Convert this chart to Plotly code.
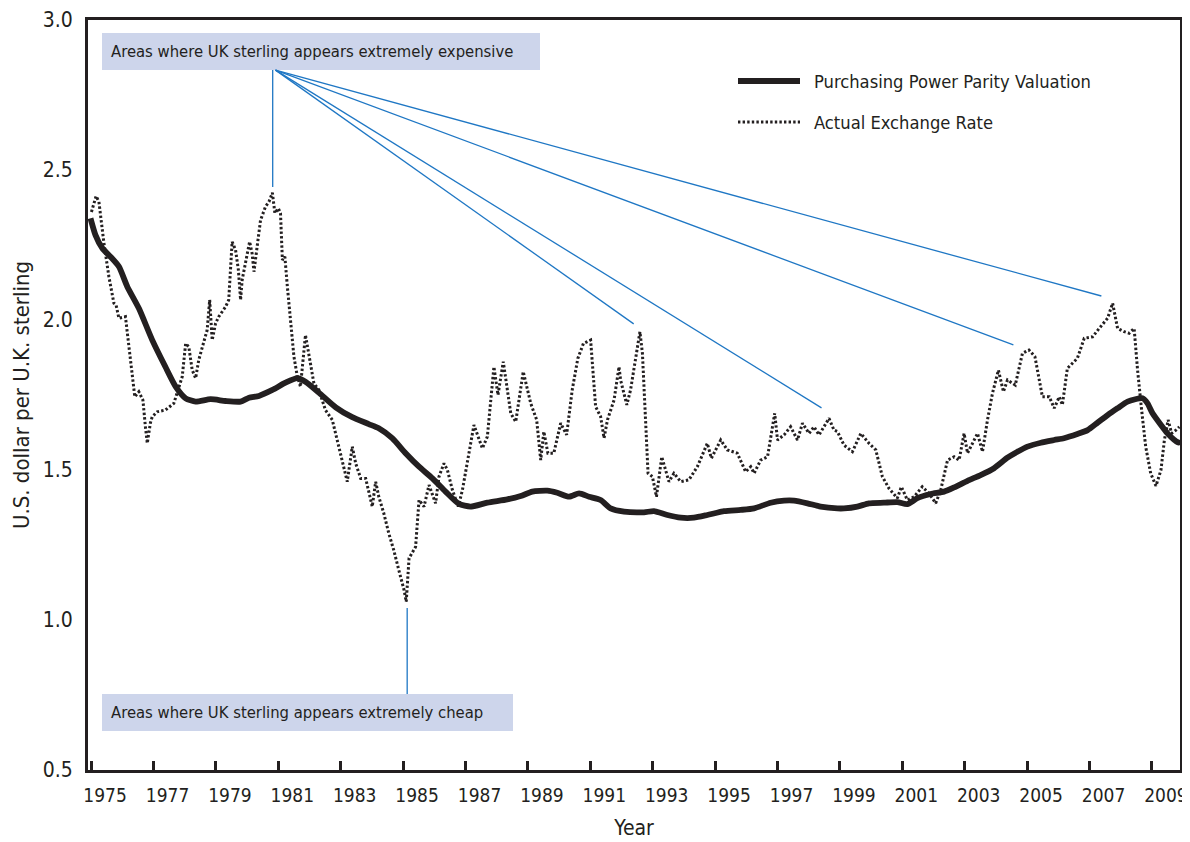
import plotly.graph_objects as go

# ---------------- data ----------------
actual_year = [1975.01, 1975.16, 1975.25, 1975.41, 1975.57, 1975.73, 1975.80, 1975.89, 1976.10, 1976.20,
               1976.32, 1976.40, 1976.53, 1976.66, 1976.74, 1976.80, 1976.90, 1976.96, 1977.12, 1977.38,
               1977.65, 1977.76, 1977.92, 1978.03, 1978.13, 1978.24, 1978.35, 1978.45, 1978.56, 1978.72,
               1978.80, 1978.84, 1978.88, 1978.99, 1979.09, 1979.31, 1979.41, 1979.52, 1979.63, 1979.72,
               1979.79, 1979.84, 1979.95, 1980.08, 1980.16, 1980.22, 1980.32, 1980.43, 1980.59, 1980.70,
               1980.81, 1980.89, 1981.00, 1981.07, 1981.13, 1981.21, 1981.29, 1981.39, 1981.50, 1981.61,
               1981.71, 1981.87, 1981.98, 1982.14, 1982.30, 1982.51, 1982.73, 1982.94, 1983.10, 1983.21,
               1983.37, 1983.48, 1983.64, 1983.80, 1984.01, 1984.12, 1984.22, 1984.38, 1984.54, 1984.70,
               1984.86, 1985.03, 1985.10, 1985.19, 1985.40, 1985.51, 1985.67, 1985.83, 1986.04, 1986.15,
               1986.31, 1986.42, 1986.58, 1986.77, 1986.90, 1987.06, 1987.27, 1987.54, 1987.70, 1987.91,
               1988.04, 1988.21, 1988.45, 1988.61, 1988.85, 1989.09, 1989.28, 1989.41, 1989.51, 1989.64,
               1989.83, 1990.05, 1990.24, 1990.42, 1990.60, 1990.78, 1991.01, 1991.17, 1991.33, 1991.44,
               1991.55, 1991.76, 1991.92, 1991.97, 1992.17, 1992.29, 1992.45, 1992.59, 1992.67, 1992.77,
               1992.85, 1992.99, 1993.12, 1993.29, 1993.52, 1993.68, 1993.90, 1994.16, 1994.43, 1994.75,
               1994.88, 1995.18, 1995.39, 1995.71, 1995.98, 1996.14, 1996.25, 1996.46, 1996.68, 1996.91,
               1997.00, 1997.21, 1997.42, 1997.64, 1997.80, 1998.01, 1998.17, 1998.33, 1998.49, 1998.65,
               1998.81, 1998.92, 1999.13, 1999.40, 1999.67, 1999.93, 2000.15, 2000.36, 2000.57, 2000.84,
               2000.97, 2001.16, 2001.38, 2001.64, 2001.86, 2002.07, 2002.23, 2002.45, 2002.66, 2002.82,
               2002.98, 2003.09, 2003.41, 2003.57, 2003.73, 2003.89, 2004.08, 2004.24, 2004.37, 2004.62,
               2004.85, 2005.06, 2005.25, 2005.38, 2005.49, 2005.71, 2005.87, 2006.03, 2006.13, 2006.29,
               2006.61, 2006.83, 2007.10, 2007.31, 2007.58, 2007.74, 2007.90, 2008.11, 2008.27, 2008.43,
               2008.54, 2008.67, 2008.80, 2008.96, 2009.13, 2009.29, 2009.40, 2009.52, 2009.63, 2009.77,
               2009.88]
actual_rate = [2.36, 2.413, 2.394, 2.257, 2.144, 2.056, 2.05, 2.006, 2.011, 1.923,
               1.811, 1.744, 1.761, 1.733, 1.644, 1.589, 1.657, 1.678, 1.694, 1.70,
               1.722, 1.757, 1.811, 1.922, 1.911, 1.833, 1.806, 1.867, 1.911, 1.967,
               2.067, 2.0, 1.933, 1.989, 2.011, 2.044, 2.067, 2.261, 2.233, 2.167,
               2.067, 2.133, 2.189, 2.261, 2.222, 2.161, 2.244, 2.333, 2.378, 2.394,
               2.424, 2.356, 2.372, 2.356, 2.20, 2.211, 2.111, 1.99, 1.878, 1.811,
               1.778, 1.95, 1.878, 1.789, 1.767, 1.70, 1.667, 1.578, 1.50, 1.461,
               1.578, 1.522, 1.472, 1.472, 1.378, 1.461, 1.411, 1.356, 1.289, 1.233,
               1.167, 1.10, 1.061, 1.206, 1.244, 1.40, 1.378, 1.45, 1.389, 1.478,
               1.522, 1.50, 1.433, 1.378, 1.433, 1.522, 1.65, 1.572, 1.611, 1.844,
               1.75, 1.861, 1.689, 1.661, 1.828, 1.722, 1.667, 1.533, 1.628, 1.556,
               1.556, 1.656, 1.617, 1.767, 1.872, 1.922, 1.933, 1.711, 1.678, 1.606,
               1.667, 1.733, 1.844, 1.80, 1.717, 1.767, 1.878, 1.961, 1.889, 1.689,
               1.489, 1.478, 1.411, 1.544, 1.461, 1.489, 1.461, 1.467, 1.511, 1.589,
               1.539, 1.60, 1.567, 1.556, 1.494, 1.511, 1.489, 1.533, 1.544, 1.689,
               1.60, 1.617, 1.644, 1.60, 1.656, 1.622, 1.644, 1.617, 1.644, 1.672,
               1.633, 1.628, 1.583, 1.561, 1.622, 1.589, 1.567, 1.478, 1.439, 1.406,
               1.444, 1.40, 1.411, 1.444, 1.422, 1.389, 1.433, 1.533, 1.544, 1.533,
               1.622, 1.556, 1.622, 1.561, 1.667, 1.756, 1.833, 1.761, 1.80, 1.783,
               1.889, 1.90, 1.878, 1.80, 1.744, 1.744, 1.706, 1.744, 1.717, 1.839,
               1.872, 1.939, 1.944, 1.972, 2.006, 2.056, 1.972, 1.961, 1.956, 1.972,
               1.833, 1.70, 1.578, 1.489, 1.447, 1.50, 1.60, 1.667, 1.622, 1.633,
               1.644]

ppp_year = [1974.98, 1975.14, 1975.36, 1975.62, 1975.89, 1976.16, 1976.53, 1976.96, 1977.38, 1977.71,
            1978.03, 1978.35, 1978.83, 1979.31, 1979.79, 1980.06, 1980.38, 1980.81, 1981.23, 1981.61,
            1981.87, 1982.30, 1982.84, 1983.37, 1983.90, 1984.22, 1984.65, 1985.08, 1985.51, 1985.94,
            1986.36, 1986.79, 1987.16, 1987.70, 1988.34, 1988.77, 1989.14, 1989.62, 1989.94, 1990.32,
            1990.64, 1990.96, 1991.33, 1991.65, 1992.08, 1992.72, 1993.04, 1993.47, 1993.90, 1994.32,
            1994.75, 1995.29, 1995.82, 1996.25, 1996.78, 1997.21, 1997.53, 1997.96, 1998.38, 1998.92,
            1999.13, 1999.56, 1999.93, 2000.41, 2000.84, 2001.16, 2001.48, 2001.91, 2002.34, 2002.66,
            2003.09, 2003.51, 2003.94, 2004.37, 2004.69, 2005.01, 2005.44, 2005.87, 2006.18, 2006.61,
            2006.94, 2007.26, 2007.58, 2007.90, 2008.22, 2008.70, 2008.86, 2009.02, 2009.29, 2009.50,
            2009.72, 2009.85, 2009.90]
ppp_value = [2.339, 2.283, 2.239, 2.211, 2.178, 2.111, 2.039, 1.933, 1.844, 1.778,
             1.739, 1.728, 1.736, 1.730, 1.728, 1.741, 1.747, 1.767, 1.791, 1.806,
             1.794, 1.758, 1.709, 1.676, 1.653, 1.639, 1.606, 1.556, 1.511, 1.472,
             1.428, 1.387, 1.378, 1.391, 1.402, 1.413, 1.428, 1.431, 1.424, 1.411,
             1.422, 1.411, 1.400, 1.372, 1.361, 1.359, 1.363, 1.350, 1.341, 1.341,
             1.350, 1.363, 1.367, 1.372, 1.391, 1.398, 1.398, 1.389, 1.378, 1.372,
             1.372, 1.378, 1.389, 1.391, 1.393, 1.386, 1.406, 1.420, 1.428, 1.442,
             1.464, 1.483, 1.506, 1.541, 1.561, 1.578, 1.591, 1.600, 1.606, 1.620,
             1.633, 1.658, 1.683, 1.706, 1.728, 1.739, 1.722, 1.689, 1.650, 1.622,
             1.600, 1.591, 1.600]

tick_years = list(range(1975, 2010, 2))
tick_labels = [str(y) for y in tick_years]
y_ticks = [0.5, 1.0, 1.5, 2.0, 2.5, 3.0]

# callout targets (year, value)
expensive_origin = (1980.91, 2.833)
expensive_targets_x = [1992.39, 1998.41, 2004.56, 2007.38]
expensive_targets_y = [1.987, 1.707, 1.917, 2.08]
expensive_vertical = (1980.82, 2.833, 2.443)
cheap_vertical = (1985.13, 1.04, 0.753)

# ---------------- styling ----------------
FONT = "DejaVu Sans Condensed, Liberation Sans Narrow, Arial Narrow, sans-serif"
INK = "#231f20"
BLUE = "#1f77c4"
BOX = "#cdd5eb"

OFF = 8                       # default page margin of the html body
W, H = 1190 - OFF, 842 - OFF
L, R, T, B = 88 - OFF, 10, 20 - OFF, 72
PW, PH = W - L - R, H - T - B


def px(x):                    # page pixel -> paper fraction
    return (x - OFF - L) / PW


def py(y):
    return (H - B - (y - OFF)) / PH


fig = go.Figure()
fig.add_trace(go.Scatter(x=actual_year, y=actual_rate, mode="lines", name="Actual Exchange Rate",
                         line=dict(color=INK, width=3, dash="2.4px,2.2px"), showlegend=False))
fig.add_trace(go.Scatter(x=ppp_year, y=ppp_value, mode="lines", name="Purchasing Power Parity Valuation",
                         line=dict(color=INK, width=5.8, shape="spline", smoothing=0.6), showlegend=False))

shapes = []
shapes.append(dict(type="line", xref="x", yref="y", x0=expensive_vertical[0], x1=expensive_vertical[0],
                   y0=expensive_vertical[1], y1=expensive_vertical[2], line=dict(color=BLUE, width=1.3)))
for tx, ty in zip(expensive_targets_x, expensive_targets_y):
    shapes.append(dict(type="line", xref="x", yref="y", x0=expensive_origin[0], y0=expensive_origin[1],
                       x1=tx, y1=ty, line=dict(color=BLUE, width=1.3)))
shapes.append(dict(type="line", xref="x", yref="y", x0=cheap_vertical[0], x1=cheap_vertical[0],
                   y0=cheap_vertical[1], y1=cheap_vertical[2], line=dict(color=BLUE, width=1.3)))
shapes.append(dict(type="rect", xref="paper", yref="paper", x0=px(102), x1=px(540), y0=py(70), y1=py(33),
                   fillcolor=BOX, line=dict(width=0), layer="below"))
shapes.append(dict(type="rect", xref="paper", yref="paper", x0=px(102), x1=px(513), y0=py(731), y1=py(694),
                   fillcolor=BOX, line=dict(width=0), layer="below"))
shapes.append(dict(type="line", xref="paper", yref="paper", x0=px(738), x1=px(800), y0=py(81), y1=py(81),
                   line=dict(color=INK, width=5.8)))
shapes.append(dict(type="line", xref="paper", yref="paper", x0=px(738), x1=px(800), y0=py(122), y1=py(122),
                   line=dict(color=INK, width=3, dash="2.4px,2.2px")))

annotations = [
    dict(text="Areas where UK sterling appears extremely expensive", xref="paper", yref="paper",
         x=px(109), y=py(51.5), xanchor="left", yanchor="middle", showarrow=False,
         font=dict(family=FONT, size=16.5, color=INK)),
    dict(text="Areas where UK sterling appears extremely cheap", xref="paper", yref="paper",
         x=px(109), y=py(712.5), xanchor="left", yanchor="middle", showarrow=False,
         font=dict(family=FONT, size=16.5, color=INK)),
    dict(text="Purchasing Power Parity Valuation", xref="paper", yref="paper",
         x=px(812), y=py(81), xanchor="left", yanchor="middle", showarrow=False,
         font=dict(family=FONT, size=18.2, color=INK)),
    dict(text="Actual Exchange Rate", xref="paper", yref="paper",
         x=px(812), y=py(122), xanchor="left", yanchor="middle", showarrow=False,
         font=dict(family=FONT, size=18.2, color=INK)),
]

fig.update_layout(
    width=W, height=H, margin=dict(l=L, r=R, t=T, b=B, autoexpand=False),
    paper_bgcolor="white", plot_bgcolor="white",
    font=dict(family=FONT, color=INK),
    shapes=shapes, annotations=annotations, showlegend=False,
    xaxis=dict(range=[1974.9, 2009.9], tickmode="array", tickvals=tick_years, ticktext=tick_labels,
               ticks="inside", ticklen=9, tickwidth=2.5, tickcolor=INK, ticklabelshift=14,
               ticklabelstandoff=6, ticklabeloverflow="allow",
               showline=True, linewidth=3, linecolor=INK, mirror=True, showgrid=False, zeroline=False,
               tickfont=dict(family=FONT, size=19, color=INK),
               title=dict(text="Year", font=dict(family=FONT, size=21, color=INK), standoff=16)),
    yaxis=dict(range=[0.5, 3.0], tickmode="array", tickvals=y_ticks,
               ticktext=[f"{v:.1f}" for v in y_ticks], ticks="", ticklabelstandoff=8,
               showline=True, linewidth=3, linecolor=INK, mirror=True, showgrid=False, zeroline=False,
               tickfont=dict(family=FONT, size=21, color=INK),
               title=dict(text="U.S. dollar per U.K. sterling", font=dict(family=FONT, size=22, color=INK),
                          standoff=8)),
)

fig.write_html("out.html")
